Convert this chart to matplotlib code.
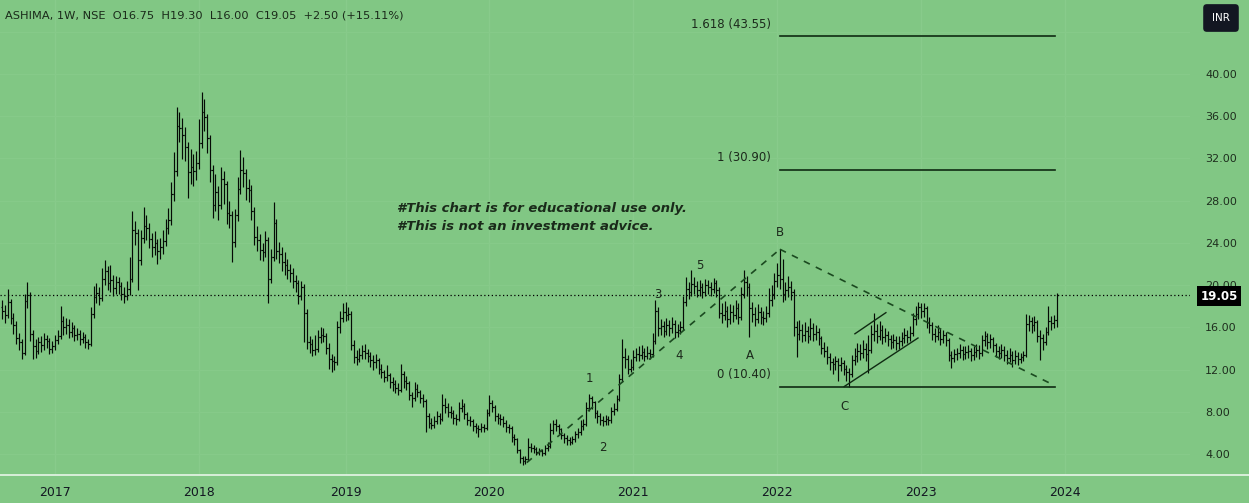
import matplotlib
matplotlib.use("Agg")
import matplotlib.pyplot as plt
import numpy as np
from matplotlib.collections import LineCollection
from matplotlib.lines import Line2D

# weekly bars, ASHIMA 1W (bar 0 = week of 2016-08-22)
first_open = 17.9
week_close = [
    17.6, 17.2, 18.4, 16.9, 16.2, 15.0, 14.6, 13.6, 18.5, 19.1,
    15.4, 14.2, 13.8, 14.6, 14.3, 14.9, 14.7, 14.0, 14.2, 14.8,
    15.2, 16.6, 16.0, 16.2, 15.6, 15.9, 15.3, 15.4, 14.9, 15.1,
    14.6, 14.4, 17.3, 18.9, 19.3, 18.8, 20.6, 21.3, 20.2, 20.5,
    19.7, 20.3, 19.9, 19.2, 19.0, 19.6, 20.6, 25.2, 24.9, 22.4,
    24.5, 25.6, 25.4, 24.4, 23.6, 24.0, 23.2, 23.6, 24.2, 25.4,
    26.2, 28.6, 30.8, 35.1, 34.9, 34.2, 33.1, 30.7, 31.2, 30.8,
    31.6, 33.5, 36.4, 35.9, 33.9, 30.9, 27.6, 28.8, 27.6, 30.1,
    29.6, 26.8, 26.6, 24.1, 26.6, 29.1, 30.9, 30.6, 29.2, 29.0,
    27.0, 24.6, 24.3, 23.3, 23.1, 24.3, 20.6, 22.7, 25.9, 23.2,
    23.0, 22.2, 21.9, 21.4, 21.2, 20.4, 20.2, 19.0, 19.8, 17.4,
    14.6, 14.4, 13.9, 14.0, 15.1, 15.3, 15.2, 14.1, 13.0, 12.8,
    12.7, 16.0, 16.9, 17.5, 17.2, 17.3, 14.3, 13.2, 13.0, 13.4,
    13.8, 13.6, 13.3, 12.9, 12.7, 12.9, 12.1, 11.8, 11.3, 11.5,
    10.8, 10.6, 10.3, 10.1, 11.6, 10.9, 10.7, 9.6, 9.3, 10.2,
    9.9, 9.3, 9.0, 7.6, 7.0, 6.8, 7.1, 7.6, 7.3, 8.7,
    8.5, 8.0, 7.9, 7.4, 7.3, 8.4, 8.6, 7.8, 7.2, 7.1,
    6.7, 6.5, 6.4, 6.6, 6.5, 7.9, 8.8, 8.5, 7.6, 7.4,
    7.3, 7.0, 6.6, 6.5, 5.6, 5.4, 4.4, 3.6, 3.4, 3.5,
    4.7, 4.6, 4.5, 4.2, 4.3, 4.1, 4.6, 4.8, 6.3, 6.9,
    6.7, 6.4, 5.8, 5.5, 5.3, 5.2, 5.4, 5.9, 6.1, 6.7,
    6.9, 8.4, 9.3, 8.9, 7.9, 7.6, 7.2, 7.1, 7.3, 7.2,
    8.1, 8.3, 9.2, 11.1, 13.2, 13.0, 12.1, 12.3, 13.2, 13.5,
    13.4, 13.7, 13.3, 13.6, 13.5, 14.7, 17.6, 15.9, 16.1, 15.7,
    16.2, 15.9, 16.3, 15.6, 15.8, 16.0, 18.4, 19.6, 19.4, 20.1,
    19.9, 19.5, 19.8, 19.4, 20.0, 19.8, 19.6, 20.2, 19.5, 17.4,
    17.2, 17.6, 16.8, 17.5, 17.2, 17.8, 17.0, 19.2, 20.3, 19.8,
    17.8, 17.3, 16.8, 17.5, 17.0, 16.9, 17.4, 18.6, 19.2, 20.4,
    21.0, 20.6, 19.2, 19.5, 19.8, 19.4, 16.0, 15.4, 15.8, 15.3,
    15.7, 15.2, 15.9, 15.4, 15.6, 15.0, 14.1, 13.8, 13.2, 12.7,
    12.5, 12.8, 12.4, 12.6, 12.1, 11.8, 11.6, 12.9, 13.3, 13.8,
    13.6, 14.0, 13.5, 13.9, 15.4, 15.7, 15.2, 15.8, 15.1, 15.3,
    14.9, 14.6, 14.8, 14.5, 14.7, 15.0, 15.3, 15.1, 15.5, 16.8,
    17.3, 17.9, 17.6, 17.8, 16.5, 16.2, 15.4, 15.2, 15.6, 14.9,
    15.3, 14.8, 13.4, 13.1, 13.5, 13.6, 13.9, 13.5, 13.7, 13.8,
    13.4, 13.7, 13.9, 13.6, 14.8, 15.2, 14.6, 14.9, 14.3, 13.8,
    13.6, 13.9, 13.4, 13.1, 13.4, 12.9, 13.3, 13.0, 13.2, 13.4,
    16.3, 16.6, 16.2, 16.5, 15.2, 15.0, 14.6, 15.6, 16.6, 16.4,
    16.75, 19.05,
]
week_high = [
    18.6, 18.1, 19.6, 18.7, 17.4, 16.6, 15.5, 14.9, 19.2, 20.3,
    19.4, 15.8, 14.9, 15.1, 15.2, 15.5, 15.3, 15.0, 14.7, 15.3,
    15.8, 18.0, 17.1, 16.9, 16.8, 16.5, 16.2, 15.9, 15.8, 15.6,
    15.4, 14.9, 17.9, 19.9, 20.2, 19.8, 21.6, 22.4, 21.8, 21.9,
    21.0, 20.9, 20.8, 20.3, 19.8, 20.4, 22.7, 27.0, 26.1, 25.3,
    25.2, 27.4, 26.6, 25.9, 24.9, 25.1, 24.4, 24.5, 25.2, 26.3,
    27.3, 29.8, 32.6, 36.9, 36.4, 35.8, 35.0, 33.6, 32.9, 32.4,
    32.7, 35.7, 38.3, 37.6, 36.2, 34.2, 31.4, 30.5, 29.4, 31.2,
    30.8, 29.9, 28.0, 27.0, 27.2, 30.2, 32.8, 32.1, 31.0, 30.1,
    29.5, 27.4, 25.6, 24.8, 24.0, 25.1, 24.6, 23.4, 27.9, 26.3,
    24.1, 23.6, 23.1, 22.5, 22.0, 21.6, 21.0, 20.5, 20.4, 20.1,
    17.7, 15.2, 14.9, 15.3, 15.8, 16.0, 15.9, 15.5, 14.5, 13.5,
    13.3, 16.6, 17.6, 18.3, 18.4, 17.9, 17.6, 14.8, 13.9, 14.1,
    14.3, 14.4, 14.0, 13.7, 13.4, 13.5, 13.1, 12.5, 12.0, 12.4,
    11.7, 11.3, 11.0, 10.7, 12.5, 11.9, 11.4, 10.9, 9.9, 10.8,
    10.6, 10.1, 9.7, 9.2, 7.9, 7.4, 7.6, 8.1, 7.9, 9.7,
    9.3, 8.8, 8.6, 8.2, 7.8, 8.9, 9.2, 8.8, 8.0, 7.6,
    7.3, 7.0, 6.8, 7.0, 6.9, 8.3, 9.6, 9.1, 8.7, 7.9,
    7.8, 7.6, 7.2, 6.9, 6.7, 5.9, 5.5, 4.5, 3.8, 3.8,
    5.5, 5.1, 4.9, 4.7, 4.6, 4.5, 4.9, 5.2, 7.0, 7.2,
    7.3, 6.9, 6.5, 6.0, 5.8, 5.6, 5.7, 6.2, 6.5, 7.2,
    7.3, 8.9, 9.7, 9.5, 9.0, 8.2, 7.9, 7.6, 7.7, 7.6,
    8.5, 8.8, 9.6, 11.6, 14.9, 14.1, 13.4, 13.0, 13.9, 14.1,
    14.2, 14.3, 14.1, 14.2, 14.0, 15.5, 18.6, 17.9, 16.8, 16.6,
    16.9, 16.7, 17.0, 16.7, 16.3, 16.6, 19.0, 20.8, 20.3, 21.4,
    20.8, 20.4, 20.5, 20.2, 20.6, 20.5, 20.3, 20.7, 20.5, 19.8,
    18.3, 18.5, 18.0, 18.2, 18.1, 18.6, 18.3, 19.8, 21.4, 20.9,
    20.2, 18.4, 17.9, 18.2, 17.9, 17.6, 18.0, 19.7, 20.0, 21.2,
    22.1, 23.4, 22.5, 20.3, 20.9, 20.4, 19.6, 16.6, 16.7, 16.3,
    16.5, 16.1, 16.9, 16.4, 16.2, 15.9, 15.2, 14.6, 14.2, 13.6,
    13.1, 13.3, 13.1, 13.2, 12.9, 12.4, 12.2, 13.4, 14.1, 14.5,
    14.4, 14.8, 14.5, 15.3, 16.2, 17.4, 16.3, 16.6, 16.2, 15.9,
    15.7, 15.3, 15.4, 15.2, 15.2, 15.6, 15.9, 15.8, 16.1, 17.4,
    18.0, 18.4, 18.3, 18.3, 18.0, 17.0, 16.5, 15.9, 16.2, 15.9,
    15.8, 15.6, 15.0, 13.8, 14.0, 14.1, 14.4, 14.2, 14.2, 14.3,
    14.1, 14.2, 14.4, 14.3, 15.3, 15.7, 15.5, 15.4, 15.1, 14.5,
    14.2, 14.4, 14.2, 13.9, 14.1, 13.8, 13.9, 13.7, 13.6, 13.8,
    17.3, 17.2, 17.0, 17.1, 16.7, 15.8, 15.4, 16.0, 18.0, 17.1,
    17.2, 19.3,
]
week_low = [
    16.8, 16.4, 16.9, 16.3, 15.4, 14.4, 13.9, 13.0, 13.4, 17.8,
    14.7, 13.0, 13.1, 13.5, 13.7, 13.9, 14.1, 13.5, 13.6, 13.9,
    14.4, 14.9, 15.3, 15.4, 15.0, 15.1, 14.7, 14.8, 14.3, 14.5,
    14.1, 14.0, 14.2, 16.9, 18.3, 18.1, 18.5, 20.0, 19.5, 19.4,
    19.0, 19.2, 19.2, 18.6, 18.3, 18.6, 19.1, 20.3, 23.8, 19.5,
    21.9, 24.0, 24.3, 23.5, 22.7, 22.9, 22.0, 22.5, 23.0, 23.7,
    24.8, 25.7, 28.0, 30.3, 33.6, 31.9, 31.8, 28.3, 29.6, 29.4,
    30.0, 31.0, 33.0, 34.6, 32.5, 29.8, 26.4, 27.0, 26.2, 27.2,
    27.7, 25.8, 25.4, 22.2, 23.6, 26.1, 28.6, 29.3, 28.1, 27.9,
    26.2, 23.8, 23.2, 22.4, 22.3, 22.7, 18.3, 20.2, 22.3, 22.5,
    22.1, 21.3, 21.0, 20.6, 20.3, 19.7, 19.4, 18.2, 18.6, 14.6,
    14.0, 13.6, 13.3, 13.4, 13.7, 14.5, 14.6, 13.5, 12.1, 11.8,
    12.0, 12.4, 15.5, 16.5, 16.6, 16.7, 13.9, 12.6, 12.4, 12.7,
    13.0, 13.0, 12.7, 12.3, 12.0, 12.2, 11.6, 11.2, 10.8, 10.9,
    10.3, 10.0, 9.8, 9.6, 9.9, 10.3, 10.1, 9.1, 8.5, 9.0,
    9.4, 8.8, 8.5, 6.1, 6.5, 6.4, 6.5, 6.9, 6.9, 7.1,
    7.9, 7.5, 7.4, 6.9, 6.8, 7.1, 8.0, 7.3, 6.8, 6.7,
    6.2, 6.0, 5.6, 6.1, 6.1, 6.3, 7.6, 8.0, 7.1, 6.9,
    6.8, 6.6, 6.1, 6.0, 5.2, 4.9, 4.1, 3.2, 3.0, 3.1,
    3.4, 4.2, 4.1, 3.9, 3.9, 3.8, 3.9, 4.3, 4.6, 5.9,
    6.2, 5.9, 5.4, 5.1, 4.9, 4.9, 5.0, 5.2, 5.5, 5.8,
    6.3, 6.7, 8.1, 8.3, 7.4, 7.0, 6.8, 6.7, 6.8, 6.8,
    7.0, 7.7, 8.1, 9.0, 10.8, 12.2, 11.6, 11.8, 12.0, 12.8,
    12.8, 13.0, 12.8, 13.0, 13.0, 13.2, 14.4, 15.2, 15.3, 15.1,
    15.3, 15.2, 15.5, 15.0, 15.1, 15.4, 15.8, 18.0, 18.7, 19.0,
    19.2, 18.9, 19.0, 18.8, 19.0, 19.2, 19.0, 19.3, 18.9, 16.9,
    16.4, 16.7, 16.0, 16.3, 16.5, 16.8, 16.3, 16.7, 18.8, 19.0,
    15.1, 16.5, 16.1, 16.4, 16.3, 16.2, 16.5, 17.0, 18.0, 18.7,
    19.8, 19.6, 18.4, 18.6, 18.9, 18.6, 15.2, 13.2, 14.8, 14.6,
    14.7, 14.5, 14.8, 14.7, 14.8, 14.3, 13.5, 13.2, 12.5, 12.0,
    11.6, 12.0, 10.9, 11.9, 11.5, 10.9, 10.4, 11.3, 12.4, 12.7,
    12.9, 13.1, 12.8, 11.7, 13.6, 14.7, 14.5, 14.8, 14.4, 14.6,
    14.2, 14.0, 14.1, 13.9, 14.0, 14.2, 14.5, 14.5, 14.7, 15.2,
    16.2, 16.8, 16.9, 17.0, 15.9, 15.5, 14.8, 14.6, 14.8, 14.3,
    14.5, 14.2, 12.8, 12.2, 12.7, 12.9, 13.1, 12.9, 13.0, 13.1,
    12.8, 12.9, 13.2, 13.0, 13.3, 14.2, 14.0, 14.1, 13.7, 13.2,
    13.0, 13.1, 12.8, 12.5, 12.7, 12.3, 12.5, 12.4, 12.6, 12.8,
    13.2, 15.7, 15.5, 15.7, 14.6, 12.9, 13.9, 14.3, 15.3, 15.8,
    15.9, 16.0,
]

year_labels = ["2017", "2018", "2019", "2020", "2021", "2022", "2023", "2024"]
year_bars = [19, 71, 124, 176, 228, 280, 332, 384]
price_ticks = [4, 8, 12, 16, 20, 24, 28, 32, 36, 40, 44]

fib_levels = [43.55, 30.90, 10.40]
fib_labels = ["1.618 (43.55)", "1 (30.90)", "0 (10.40)"]
fib_start, fib_end = 281, 380.4

wave_labels = ["1", "2", "3", "4", "5", "A", "B", "C"]
wave_bar = [212.0, 217.0, 237.0, 244.5, 252.0, 270.0, 281.0, 304.5]
wave_price = [11.2, 4.6, 19.1, 13.3, 21.9, 13.3, 25.0, 8.5]

# dashed trend lines (bar, price) and channel lines
trend_up = [(189.5, 3.2), (281.0, 23.4)]
trend_down = [(281.0, 23.4), (379.5, 10.6)]
channel_low = [(304.2, 10.4), (330.9, 15.0)]
channel_high = [(308.1, 15.4), (319.3, 17.4)]

last_price = 19.05

BG = "#81c784"
INK = "#131722"
LINE = "#0f2a12"

W, H = 1249, 503
fig = plt.figure(figsize=(W / 100, H / 100), dpi=100, facecolor=BG)
ax = fig.add_axes([0, 28 / H, 1190 / W, 475 / H])
ax.set_facecolor(BG)

n = len(week_close)
close = np.array(week_close)
opens = np.concatenate([[first_open], close[:-1]])
high = np.maximum(np.array(week_high), np.maximum(opens, close))
low = np.minimum(np.array(week_low), np.minimum(opens, close))

segs = []
for i in range(n):
    segs.append([(i, low[i]), (i, high[i])])
    segs.append([(i - 0.5, opens[i]), (i, opens[i])])
    segs.append([(i, close[i]), (i + 0.5, close[i])])
ax.add_collection(LineCollection(segs, colors="#050a05", linewidths=0.85, zorder=3))

ax.set_xlim(-0.87, 429.2)
ax.set_ylim(2.03, 47.0)

# faint grid
for b in year_bars:
    ax.axvline(b, color="#88cb8b", lw=1, zorder=0)
for p in price_ticks:
    ax.axhline(p, color="#86ca89", lw=1, zorder=0)

# last price dotted line
ax.axhline(last_price, color="black", lw=0.9, ls=(0, (1, 2)), zorder=2)

# fib levels
for lvl, lab in zip(fib_levels, fib_labels):
    ax.plot([fib_start, fib_end], [lvl, lvl], color=LINE, lw=1.2, zorder=4)
    ax.text(fib_start - 3.2, lvl + 0.55, lab, ha="right", va="bottom",
            fontsize=8.5, color="#1c2a1c")

# dashed wave lines
for line in (trend_up, trend_down):
    xs, ys = zip(*line)
    ax.plot(xs, ys, color="#1b4a20", lw=1.2, ls=(0, (4, 4)), zorder=4)
for line in (channel_low, channel_high):
    xs, ys = zip(*line)
    ax.plot(xs, ys, color=LINE, lw=1.0, zorder=4)

for lab, b, p in zip(wave_labels, wave_bar, wave_price):
    ax.text(b, p, lab, ha="center", va="center", fontsize=8.5, color="#1c2a1c")

ax.text(142.6, 27.3, "#This chart is for educational use only.", ha="left", va="center",
        fontsize=9.5, fontstyle="italic", fontweight="bold", color="#1a2a1a")
ax.text(142.6, 25.6, "#This is not an investment advice.", ha="left", va="center",
        fontsize=9.5, fontstyle="italic", fontweight="bold", color="#1a2a1a")

# axes
for s in ax.spines.values():
    s.set_visible(False)
ax.set_xticks(year_bars)
ax.set_xticklabels(year_labels)
ax.yaxis.tick_right()
ax.set_yticks(price_ticks)
ax.set_yticklabels([f"{p:.2f}" if p <= 40 else "" for p in price_ticks])
ax.tick_params(axis="x", length=0, pad=8, labelsize=9, labelcolor=INK)
ax.tick_params(axis="y", length=0, pad=11, labelsize=8, labelcolor="#1e2e1e")

fig.add_artist(Line2D([0, 1], [28 / H, 28 / H], color="#e8f5e8", lw=1.2))

# header
fig.text(5 / W, 1 - 15 / H, "ASHIMA, 1W, NSE  O16.75  H19.30  L16.00  C19.05  +2.50 (+15.11%)",
         ha="left", va="center", fontsize=8.2, color="#1a2a1a")

fig.text(1221 / W, 1 - 18 / H, "INR", ha="center", va="center", fontsize=7.5, color="white",
         bbox=dict(boxstyle="round,pad=0.85,rounding_size=0.35", fc="#131722", ec="none"))
fig.text(1219 / W, 1 - 296 / H, f"{last_price:.2f}", ha="center", va="center", fontsize=8.5,
         color="white", fontweight="bold",
         bbox=dict(boxstyle="square,pad=0.3", fc="black", ec="none"))

fig.savefig("out.png", dpi=100, facecolor=BG)
